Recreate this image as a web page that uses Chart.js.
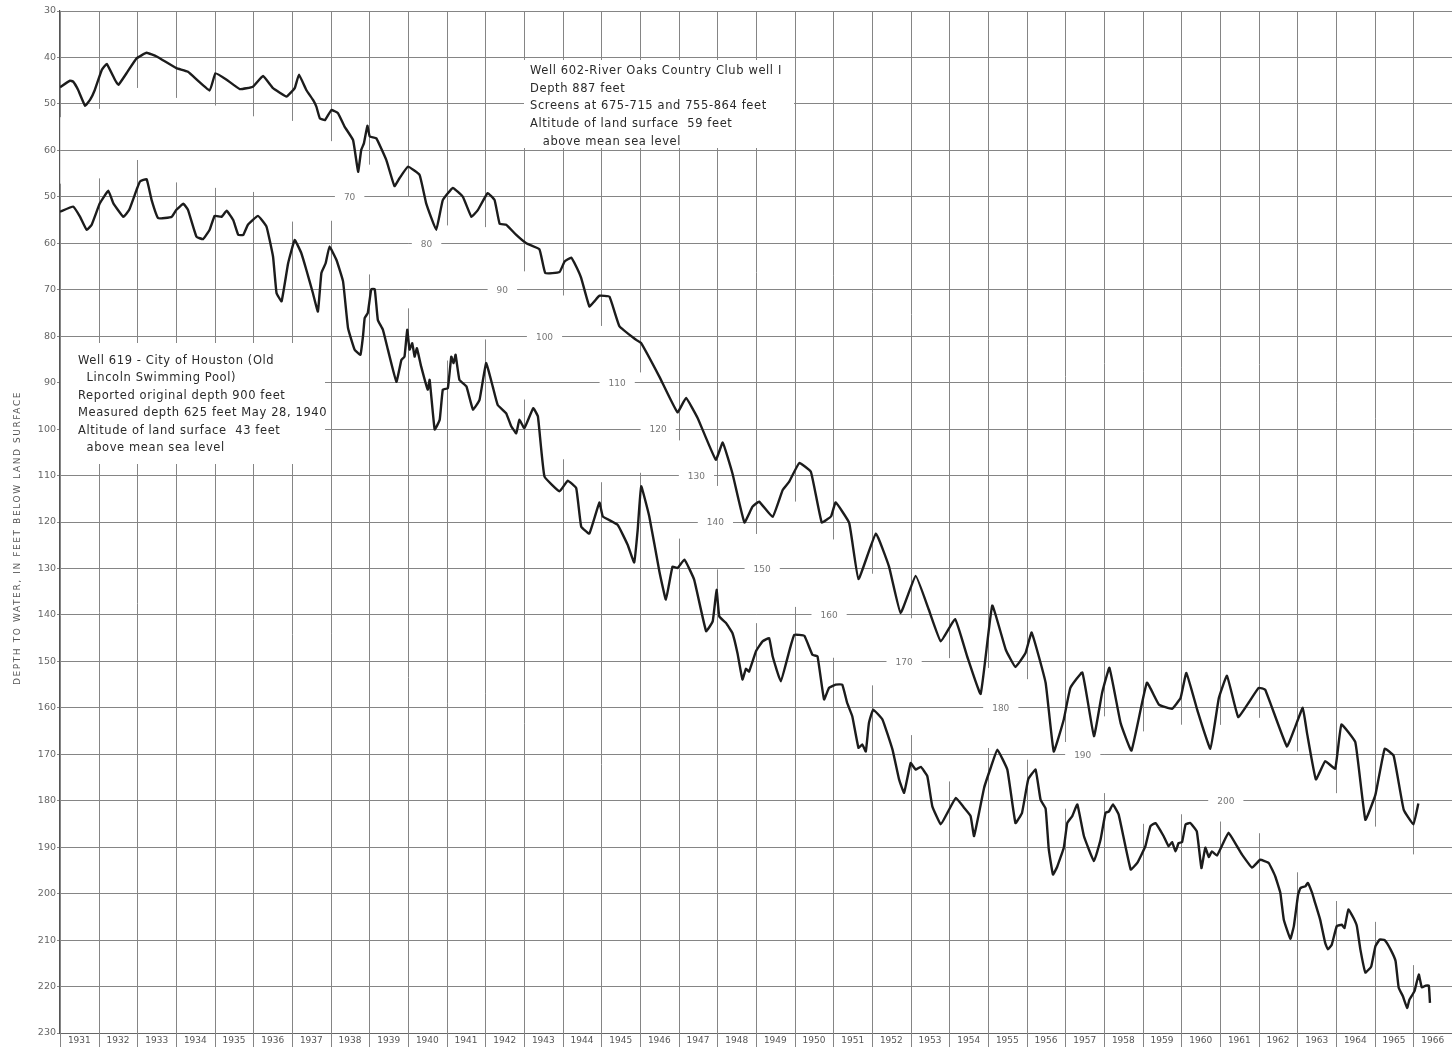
<!DOCTYPE html>
<html>
<head>
<meta charset="utf-8">
<title>Hydrographs of wells 602 and 619, Houston</title>
<script src="https://cdn.jsdelivr.net/npm/chart.js@4.4.1/dist/chart.umd.min.js"></script>
<style>
    html, body { margin: 0; padding: 0; background: #ffffff; }
    #wrap { width: 1452px; height: 1047px; }
</style>
</head>
<body>
<div id="wrap"><canvas id="chart" width="1452" height="1047"></canvas></div>
<script>
// year columns along the bottom
const years = [
    1931, 1932, 1933, 1934, 1935, 1936, 1937, 1938, 1939, 1940, 1941, 1942,
    1943, 1944, 1945, 1946, 1947, 1948, 1949, 1950, 1951, 1952, 1953, 1954,
    1955, 1956, 1957, 1958, 1959, 1960, 1961, 1962, 1963, 1964, 1965, 1966,
];

// left axis labels, top to bottom (first four belong to well 602, the rest to well 619)
const depthTickLabels = [
    '30', '40', '50', '60', '50', '60', '70', '80', '90', '100', '110', '120',
    '130', '140', '150', '160', '170', '180', '190', '200', '210', '220', '230',
];

// inline scale labels for well 602 along the band between the curves
const well602ScaleLabels = [70, 80, 90, 100, 110, 120, 130, 140, 150, 160, 170, 180, 190, 200];

// well 602 - River Oaks Country Club well 1 (depth to water, feet)
const well602Dates = [
    1931.00, 1931.26, 1931.34, 1931.47, 1931.65, 1931.78, 1931.90, 1932.08, 1932.21, 1932.42,
    1932.51, 1932.72, 1932.98, 1933.24, 1933.50, 1934.01, 1934.31, 1934.87, 1935.02, 1935.31,
    1935.65, 1935.99, 1936.25, 1936.51, 1936.86, 1937.07, 1937.18, 1937.37, 1937.54, 1937.63,
    1937.72, 1937.85, 1938.02, 1938.19, 1938.36, 1938.58, 1938.71, 1938.79, 1938.86, 1938.95,
    1939.01, 1939.18, 1939.44, 1939.65, 1939.78, 1940.00, 1940.30, 1940.47, 1940.73, 1940.90,
    1941.16, 1941.42, 1941.64, 1941.81, 1942.06, 1942.24, 1942.37, 1942.54, 1942.80, 1943.06,
    1943.40, 1943.55, 1943.92, 1944.05, 1944.22, 1944.35, 1944.48, 1944.69, 1944.82, 1944.95,
    1945.21, 1945.47, 1945.90, 1946.03, 1946.50, 1946.97, 1947.19, 1947.49, 1947.96, 1948.14,
    1948.39, 1948.70, 1948.91, 1949.08, 1949.43, 1949.69, 1949.86, 1950.12, 1950.42, 1950.70,
    1950.94, 1951.06, 1951.41, 1951.65, 1952.10, 1952.44, 1952.74, 1953.13, 1953.47, 1953.78,
    1954.15, 1954.46, 1954.81, 1955.11, 1955.46, 1955.71, 1955.97, 1956.13, 1956.49, 1956.70,
    1956.96, 1957.13, 1957.44, 1957.74, 1957.95, 1958.14, 1958.43, 1958.71, 1959.11, 1959.42,
    1959.76, 1959.98, 1960.13, 1960.41, 1960.75, 1960.97, 1961.18, 1961.47, 1961.74, 1962.00,
    1962.17, 1962.73, 1962.95, 1963.14, 1963.25, 1963.48, 1963.72, 1963.98, 1964.14, 1964.50,
    1964.76, 1965.02, 1965.26, 1965.49, 1965.75, 1966.00, 1966.13,
];
const well602Depths = [
    46.4, 45.0, 45.2, 47.0, 50.4, 49.1, 47.0, 42.7, 41.4, 44.8,
    45.9, 43.4, 40.2, 39.0, 39.8, 42.3, 43.1, 47.1, 43.4, 44.8,
    46.8, 46.3, 44.0, 46.6, 48.4, 46.6, 43.7, 47.0, 49.1, 50.6,
    53.1, 53.5, 51.3, 52.0, 54.9, 57.8, 64.6, 59.9, 58.5, 54.7,
    57.0, 57.4, 62.1, 67.7, 66.0, 63.5, 65.3, 71.4, 77.1, 70.7,
    68.1, 70.0, 74.3, 72.8, 69.2, 70.7, 75.8, 76.0, 78.2, 80.0,
    81.3, 86.4, 86.2, 83.9, 83.1, 85.0, 87.5, 93.6, 92.5, 91.3,
    91.5, 97.9, 100.8, 101.5, 108.7, 116.4, 113.3, 117.6, 126.6, 122.9,
    129.5, 140.1, 136.7, 135.6, 138.9, 133.1, 131.3, 127.3, 129.2, 140.1,
    138.8, 135.8, 140.2, 152.3, 142.5, 149.6, 159.6, 151.6, 158.9, 165.7,
    160.9, 168.9, 177.0, 158.0, 167.5, 171.2, 168.2, 163.8, 174.6, 189.4,
    182.5, 175.7, 172.4, 186.1, 176.8, 171.4, 183.3, 189.2, 174.6, 179.3,
    180.2, 177.9, 172.5, 180.4, 188.8, 177.9, 173.1, 182.0, 178.9, 175.7,
    176.1, 188.3, 184.0, 180.0, 185.4, 195.4, 191.5, 193.1, 183.6, 187.4,
    204.1, 198.7, 188.8, 190.3, 201.9, 205.1, 200.6,
];

// well 619 - City of Houston, Old Lincoln Swimming Pool (depth to water, feet)
const well619Dates = [
    1931.00, 1931.34, 1931.52, 1931.69, 1931.82, 1932.03, 1932.25, 1932.38, 1932.64, 1932.79,
    1932.98, 1933.07, 1933.24, 1933.37, 1933.54, 1933.89, 1934.01, 1934.19, 1934.31, 1934.53,
    1934.70, 1934.87, 1935.00, 1935.18, 1935.31, 1935.48, 1935.61, 1935.74, 1935.86, 1936.12,
    1936.34, 1936.51, 1936.60, 1936.73, 1936.90, 1937.07, 1937.24, 1937.37, 1937.54, 1937.67,
    1937.76, 1937.87, 1937.97, 1938.15, 1938.32, 1938.45, 1938.62, 1938.77, 1938.84, 1938.88,
    1938.96, 1939.05, 1939.14, 1939.22, 1939.35, 1939.48, 1939.70, 1939.83, 1939.91, 1939.98,
    1940.04, 1940.11, 1940.17, 1940.23, 1940.34, 1940.51, 1940.56, 1940.69, 1940.82, 1940.90,
    1941.03, 1941.12, 1941.18, 1941.23, 1941.33, 1941.51, 1941.68, 1941.85, 1942.02, 1942.19,
    1942.32, 1942.54, 1942.67, 1942.80, 1942.88, 1943.01, 1943.24, 1943.36, 1943.53, 1943.92,
    1944.13, 1944.35, 1944.48, 1944.69, 1944.95, 1945.04, 1945.42, 1945.68, 1945.85, 1945.94,
    1946.03, 1946.24, 1946.50, 1946.67, 1946.84, 1946.97, 1947.15, 1947.40, 1947.71, 1947.88,
    1947.98, 1948.05, 1948.22, 1948.39, 1948.52, 1948.65, 1948.74, 1948.82, 1949.00, 1949.17,
    1949.34, 1949.43, 1949.64, 1949.86, 1949.99, 1950.25, 1950.46, 1950.59, 1950.76, 1950.89,
    1951.06, 1951.23, 1951.36, 1951.49, 1951.65, 1951.75, 1951.84, 1951.92, 1952.03, 1952.27,
    1952.53, 1952.70, 1952.83, 1953.00, 1953.13, 1953.26, 1953.43, 1953.56, 1953.78, 1953.95,
    1954.17, 1954.38, 1954.55, 1954.64, 1954.90, 1955.07, 1955.24, 1955.50, 1955.71, 1955.88,
    1956.04, 1956.23, 1956.36, 1956.49, 1956.57, 1956.68, 1956.79, 1956.96, 1957.05, 1957.18,
    1957.31, 1957.48, 1957.74, 1957.91, 1958.04, 1958.13, 1958.23, 1958.38, 1958.69, 1958.86,
    1959.07, 1959.20, 1959.33, 1959.54, 1959.67, 1959.76, 1959.85, 1959.93, 1960.02, 1960.11,
    1960.23, 1960.40, 1960.52, 1960.62, 1960.71, 1960.79, 1960.92, 1961.05, 1961.22, 1961.44,
    1961.57, 1961.83, 1962.04, 1962.26, 1962.43, 1962.56, 1962.65, 1962.82, 1962.91, 1963.02,
    1963.08, 1963.21, 1963.27, 1963.38, 1963.46, 1963.59, 1963.72, 1963.79, 1963.89, 1964.02,
    1964.15, 1964.22, 1964.32, 1964.45, 1964.54, 1964.63, 1964.76, 1964.91, 1965.02, 1965.13,
    1965.26, 1965.41, 1965.54, 1965.62, 1965.73, 1965.84, 1965.90, 1966.03, 1966.14, 1966.22,
    1966.32, 1966.40, 1966.43,
];
const well619Depths = [
    53.2, 52.1, 54.3, 57.1, 56.0, 51.4, 48.7, 51.4, 54.3, 52.8,
    48.5, 46.7, 46.2, 50.7, 54.6, 54.3, 52.8, 51.5, 52.8, 58.6,
    59.1, 57.1, 54.1, 54.3, 53.0, 55.0, 58.2, 58.2, 56.0, 54.1,
    56.4, 62.9, 70.7, 72.5, 64.3, 59.3, 62.1, 65.7, 70.7, 74.7,
    66.4, 64.3, 60.7, 63.6, 68.2, 78.3, 82.9, 84.0, 79.7, 76.1,
    75.0, 69.9, 69.9, 76.5, 78.6, 82.9, 89.8, 85.1, 84.4, 78.6,
    82.9, 81.5, 84.4, 82.6, 86.5, 91.5, 89.4, 100.1, 98.0, 91.5,
    91.2, 84.4, 85.8, 84.0, 89.4, 90.8, 95.8, 93.7, 85.8, 90.8,
    94.8, 96.6, 99.4, 100.9, 98.0, 99.8, 95.5, 97.3, 110.2, 113.4,
    111.1, 112.7, 121.0, 122.5, 115.8, 118.8, 120.6, 124.9, 128.7, 121.7,
    112.3, 118.8, 130.6, 136.7, 129.6, 129.9, 128.1, 132.4, 143.5, 141.4,
    134.6, 140.3, 141.7, 143.9, 148.2, 153.9, 151.6, 152.2, 147.8, 145.7,
    145.0, 148.9, 154.3, 147.8, 144.3, 144.5, 148.6, 148.9, 158.2, 155.7,
    155.0, 155.0, 159.0, 161.8, 168.6, 167.9, 169.4, 163.3, 160.4, 162.5,
    169.0, 175.4, 178.3, 171.9, 173.3, 172.7, 174.7, 181.2, 185.1, 182.6,
    179.4, 181.5, 183.3, 187.6, 177.2, 172.9, 169.0, 173.3, 184.8, 182.6,
    175.4, 173.3, 179.8, 181.7, 190.3, 195.9, 194.2, 190.1, 184.8, 183.3,
    180.8, 187.6, 193.0, 188.4, 182.6, 182.3, 180.8, 183.0, 194.8, 193.4,
    189.8, 185.5, 184.8, 187.6, 189.8, 188.9, 190.9, 189.1, 188.9, 185.1,
    184.8, 186.6, 194.5, 190.1, 192.1, 190.9, 191.8, 189.7, 186.9, 189.8,
    191.6, 194.4, 192.7, 193.4, 196.3, 199.8, 205.6, 209.7, 207.0, 200.2,
    198.8, 198.4, 197.7, 199.8, 202.0, 205.6, 210.6, 212.0, 211.0, 207.0,
    206.7, 207.4, 203.4, 205.2, 207.0, 212.0, 217.0, 215.7, 211.3, 209.9,
    210.0, 212.0, 214.5, 220.2, 222.1, 224.6, 222.8, 221.0, 217.4, 220.2,
    219.8, 219.8, 223.5,
];

const well602Notes = [
    'Well 602-River Oaks Country Club well I',
    'Depth 887 feet',
    'Screens at 675-715 and 755-864 feet',
    'Altitude of land surface  59 feet',
    '   above mean sea level',
];
const well619Notes = [
    'Well 619 - City of Houston (Old',
    '  Lincoln Swimming Pool)',
    'Reported original depth 900 feet',
    'Measured depth 625 feet May 28, 1940',
    'Altitude of land surface  43 feet',
    '  above mean sea level',
];

// well 602 is drawn 20 ft higher on the shared paper than well 619
const WELL_602_SHIFT = 20;

const FONT = '"DejaVu Sans", "Liberation Sans", sans-serif';
const GRID = '#858585';
const INK = '#1c1c1c';

// where along the band each inline 602 label sits (decimal year)
const scaleLabelYears = [
    1938.49, 1940.48, 1942.44, 1943.53, 1945.41, 1946.47, 1947.46,
    1947.95, 1949.16, 1950.89, 1952.83, 1955.33, 1957.45, 1961.15,
];

const toPoints = (dates, depths, shift) => dates.map((d, i) => ({ x: d, y: depths[i] - shift }));

const curveAt = (dates, depths, year) => {
    if (year < dates[0] || year > dates[dates.length - 1]) {
        return null;
    }
    for (let i = 1; i < dates.length; i++) {
        if (dates[i] >= year) {
            const t = (year - dates[i - 1]) / (dates[i] - dates[i - 1]);
            return depths[i - 1] + t * (depths[i] - depths[i - 1]);
        }
    }
    return null;
};

const paperPlugin = {
    id: 'paper',
    beforeDatasetsDraw(chart) {
        const { ctx, chartArea, scales } = chart;
        const xs = scales.x;
        const ys = scales.y;

        ctx.save();
        ctx.strokeStyle = GRID;
        ctx.lineWidth = 1;

        // vertical year lines, broken in the band between the two hydrographs
        const bounds = years.concat([years[years.length - 1] + 1]);
        bounds.forEach((yr) => {
            const px = Math.round(xs.getPixelForValue(yr)) + 0.5;
            if (px > chartArea.right) {
                return;
            }
            const bottom = chartArea.bottom + 14;
            const upper = curveAt(well602Dates, well602Depths, yr);
            const lower = curveAt(well619Dates, well619Depths, yr);
            ctx.beginPath();
            if (upper !== null && lower !== null) {
                const gapTop = ys.getPixelForValue(upper - WELL_602_SHIFT) + 30;
                const gapBottom = ys.getPixelForValue(lower) - 28;
                if (gapBottom - gapTop > 8) {
                    ctx.moveTo(px, chartArea.top);
                    ctx.lineTo(px, gapTop);
                    ctx.moveTo(px, gapBottom);
                    ctx.lineTo(px, bottom);
                } else {
                    ctx.moveTo(px, chartArea.top);
                    ctx.lineTo(px, bottom);
                }
            } else {
                ctx.moveTo(px, chartArea.top);
                ctx.lineTo(px, bottom);
            }
            ctx.stroke();
        });

        // inline depth labels for well 602
        ctx.font = `9px ${FONT}`;
        ctx.textAlign = 'center';
        ctx.textBaseline = 'middle';
        well602ScaleLabels.forEach((v, i) => {
            const px = xs.getPixelForValue(scaleLabelYears[i]);
            const py = ys.getPixelForValue(v - WELL_602_SHIFT);
            const w = ctx.measureText(String(v)).width + 18;
            ctx.fillStyle = '#ffffff';
            ctx.fillRect(px - w / 2, py - 4, w, 8);
            ctx.fillStyle = '#777777';
            ctx.fillText(String(v), px, py + 1);
        });

        // description boxes
        const drawNotes = (lines, left, top, width, height, textX, firstY, step) => {
            ctx.fillStyle = '#ffffff';
            ctx.fillRect(left, top, width, height);
            ctx.fillStyle = '#2a2a2a';
            ctx.font = `11.5px ${FONT}`;
            ctx.letterSpacing = '0.6px';
            ctx.textAlign = 'left';
            ctx.textBaseline = 'middle';
            lines.forEach((line, i) => ctx.fillText(line, textX, firstY + i * step));
            ctx.letterSpacing = '0px';
        };
        drawNotes(well602Notes, 524, 60, 270, 88, 530, 71, 17.7);
        drawNotes(well619Notes, 61, 343, 264, 121, 78, 361, 17.4);

        ctx.restore();
    },
    afterDraw(chart) {
        const { ctx } = chart;
        ctx.save();
        ctx.translate(18, 538);
        ctx.rotate(-Math.PI / 2);
        ctx.font = `9px ${FONT}`;
        ctx.letterSpacing = '1.6px';
        ctx.fillStyle = '#555555';
        ctx.textAlign = 'center';
        ctx.textBaseline = 'middle';
        ctx.fillText('DEPTH TO WATER, IN FEET BELOW LAND SURFACE', 0, 0);
        ctx.restore();
    },
};

new Chart(document.getElementById('chart'), {
    type: 'line',
    data: {
        datasets: [
            {
                label: 'Well 602',
                data: toPoints(well602Dates, well602Depths, WELL_602_SHIFT),
                borderColor: INK,
                borderWidth: 2.4,
                pointRadius: 0,
                tension: 0.1,
                fill: false,
            },
            {
                label: 'Well 619',
                data: toPoints(well619Dates, well619Depths, 0),
                borderColor: INK,
                borderWidth: 2.4,
                pointRadius: 0,
                tension: 0.1,
                fill: false,
            },
        ],
    },
    options: {
        responsive: false,
        animation: false,
        layout: { padding: { top: 11, right: 0, left: 0, bottom: 0 } },
        plugins: {
            legend: { display: false },
            tooltip: { enabled: false },
        },
        scales: {
            x: {
                type: 'linear',
                min: years[0],
                max: years[years.length - 1] + 1,
                afterBuildTicks: (axis) => {
                    axis.ticks = years.map((y) => ({ value: y + 0.5 }));
                },
                afterFit: (axis) => {
                    axis.height = 14;
                },
                ticks: {
                    autoSkip: false,
                    maxRotation: 0,
                    padding: 2,
                    color: '#555555',
                    font: { family: FONT, size: 9 },
                    callback: (v) => String(Math.floor(v)),
                },
                grid: { display: false, drawTicks: false, tickLength: 0 },
                border: { display: true, color: '#666666' },
            },
            y: {
                type: 'linear',
                reverse: true,
                min: 10,
                max: 230,
                afterBuildTicks: (axis) => {
                    axis.ticks = depthTickLabels.map((_, i) => ({ value: 10 + i * 10 }));
                },
                afterFit: (axis) => {
                    axis.width = 60;
                },
                ticks: {
                    padding: 1,
                    color: '#666666',
                    font: { family: FONT, size: 9.5 },
                    callback: (v, i) => depthTickLabels[i],
                },
                grid: { color: GRID, lineWidth: 1, tickLength: 3 },
                border: { color: '#555555', width: 1.2 },
            },
        },
    },
    plugins: [paperPlugin],
});
</script>
</body>
</html>
